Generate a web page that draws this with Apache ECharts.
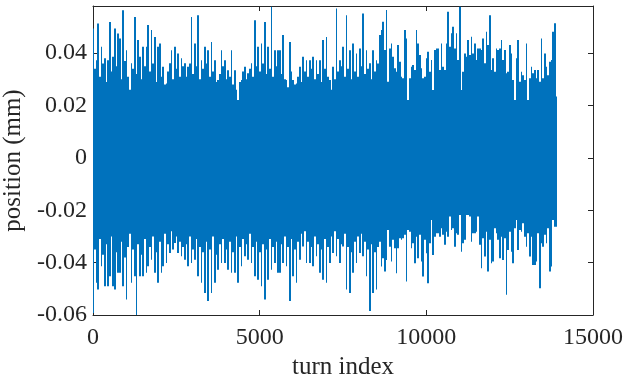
<!DOCTYPE html>
<html>
<head>
<meta charset="utf-8">
<script src="https://cdn.jsdelivr.net/npm/echarts@6/dist/echarts.min.js"></script>
<style>
html, body { margin: 0; padding: 0; background: #fff; }
#container { width: 626px; height: 381px; }
</style>
</head>
<body>
<div id="container"></div>
<script>
// spacing between plotted columns, in turns
const turnStep = 50;

// upper edge of each column (mm) left to right
const upper = [
    // turns 0 - 2700
    0.0494, 0.034, 0.0373, 0.0513, 0.031, 0.0424, 0.036, 0.038, 0.029, 0.0373, 0.0519, 0.033, 0.0386, 0.0494, 0.035, 0.0475,
    0.0456, 0.03, 0.0564, 0.037, 0.0411, 0.031, 0.026, 0.0361, 0.034, 0.0538, 0.032, 0.045, 0.0386, 0.03, 0.0424, 0.035,
    0.0424, 0.0507, 0.033, 0.0488, 0.036, 0.0462, 0.029, 0.0424, 0.0437, 0.031, 0.0348, 0.028, 0.0284, 0.033, 0.0361, 0.0411,
    0.03, 0.0424, 0.034, 0.0399, 0.031, 0.038, 0.035,
    // turns 2750 - 5550
    0.0361, 0.031, 0.0348, 0.036, 0.0538, 0.032, 0.0437, 0.035, 0.0545, 0.03, 0.0373, 0.034, 0.0424, 0.036, 0.0411, 0.031,
    0.0443, 0.033, 0.0373, 0.029, 0.0297, 0.032, 0.0411, 0.035, 0.0373, 0.03, 0.0335, 0.031, 0.0411, 0.028, 0.0335, 0.026,
    0.0221, 0.029, 0.0297, 0.033, 0.0348, 0.03, 0.0323, 0.034, 0.0361, 0.031, 0.0526, 0.035, 0.0424, 0.033, 0.0437, 0.036,
    0.0519, 0.032, 0.0424, 0.034, 0.0577, 0.031, 0.0411, 0.035, 0.0411,
    // turns 5600 - 8550
    0.0411, 0.032, 0.0469, 0.03, 0.0297, 0.027, 0.0443, 0.033, 0.0297, 0.028, 0.0284, 0.031, 0.0348, 0.029, 0.0386, 0.033,
    0.0373, 0.031, 0.0373, 0.034, 0.0386, 0.03, 0.0373, 0.032, 0.0373, 0.029, 0.045, 0.034, 0.0462, 0.031, 0.0297, 0.026,
    0.0348, 0.03, 0.057, 0.033, 0.0373, 0.035, 0.0424, 0.031, 0.0545, 0.034, 0.0411, 0.03, 0.0437, 0.033, 0.0399, 0.031,
    0.0418, 0.035, 0.0551, 0.032, 0.0411, 0.034, 0.0361, 0.03, 0.0411, 0.033, 0.0373, 0.036,
    // turns 8600 - 13900
    0.0469, 0.0488, 0.052, 0.0412, 0.0565, 0.0291, 0.0418, 0.0437, 0.0386, 0.0342, 0.0329, 0.0431, 0.0367, 0.031, 0.0304, 0.0488,
    0.0456, 0.0221, 0.0304, 0.0348, 0.0355, 0.0336, 0.0488, 0.0437, 0.0393, 0.0342, 0.0304, 0.031, 0.038, 0.0405, 0.0329, 0.0374,
    0.0259, 0.0412, 0.0418, 0.0418, 0.0336, 0.0437, 0.0348, 0.0336, 0.0437, 0.0558, 0.0424, 0.0476, 0.0501, 0.0418, 0.0476, 0.0374,
    0.0577, 0.0259, 0.0329, 0.0399, 0.0386, 0.045, 0.0393, 0.0463, 0.0399, 0.0437, 0.0374, 0.0418, 0.0418, 0.0412, 0.0456, 0.0361,
    0.0482, 0.0431, 0.0545, 0.0336, 0.038, 0.0329, 0.0418, 0.0412, 0.0418, 0.045, 0.0374, 0.0412, 0.0323, 0.0329, 0.0431, 0.0399,
    0.0297, 0.0221, 0.038, 0.045, 0.0291, 0.0329, 0.0316, 0.0297, 0.0437, 0.0221, 0.0304, 0.0348, 0.0323, 0.0336, 0.0304, 0.0336,
    0.0291, 0.0456, 0.0304, 0.0399, 0.0348, 0.0316, 0.0367, 0.0374, 0.0482, 0.0514, 0.0234
];

// lower edge of each column (mm)
const lower = [
    // turns 0 - 2700
    -0.0592, -0.035, -0.0477, -0.0503, -0.031, -0.0414, -0.037, -0.049, -0.033, -0.049, -0.0452, -0.03, -0.049, -0.0503, -0.036, -0.0439,
    -0.0439, -0.032, -0.049, -0.038, -0.0541, -0.034, -0.029, -0.0477, -0.035, -0.0452, -0.06, -0.033, -0.0452, -0.037, -0.0452, -0.031,
    -0.0439, -0.0414, -0.034, -0.0389, -0.03, -0.0439, -0.036, -0.0477, -0.032, -0.0439, -0.0414, -0.029, -0.0401, -0.033, -0.0363, -0.028,
    -0.035, -0.0325, -0.03, -0.0363, -0.032, -0.0376, -0.034,
    // turns 2750 - 5550
    -0.0389, -0.033, -0.0414, -0.03, -0.0401, -0.035, -0.0389, -0.031, -0.0452, -0.034, -0.0477, -0.036, -0.0516, -0.032, -0.0547, -0.035,
    -0.0516, -0.03, -0.0477, -0.037, -0.0427, -0.033, -0.0401, -0.031, -0.0401, -0.035, -0.0427, -0.032, -0.0439, -0.036, -0.0439, -0.03,
    -0.0477, -0.034, -0.0414, -0.031, -0.0376, -0.033, -0.0389, -0.029, -0.0401, -0.034, -0.0452, -0.032, -0.0465, -0.036, -0.049, -0.033,
    -0.0541, -0.035, -0.0465, -0.031, -0.0427, -0.034, -0.0401, -0.032, -0.0439,
    // turns 5600 - 8550
    -0.0439, -0.033, -0.0401, -0.03, -0.0414, -0.034, -0.0547, -0.031, -0.0452, -0.035, -0.0477, -0.032, -0.0389, -0.029, -0.0338, -0.028,
    -0.0401, -0.032, -0.0401, -0.034, -0.0414, -0.03, -0.0376, -0.033, -0.0439, -0.035, -0.0465, -0.031, -0.0477, -0.034, -0.0401, -0.03,
    -0.0363, -0.028, -0.0376, -0.031, -0.0401, -0.033, -0.0338, -0.029, -0.0503, -0.034, -0.0516, -0.036, -0.0439, -0.032, -0.0401, -0.03,
    -0.0363, -0.029, -0.0376, -0.032, -0.0452, -0.035, -0.0585, -0.033, -0.0516, -0.036, -0.0503, -0.034,
    // turns 8600 - 13900
    -0.032, -0.0415, -0.0383, -0.0434, -0.039, -0.0275, -0.0339, -0.0396, -0.0313, -0.0345, -0.0441, -0.0345, -0.0307, -0.0313, -0.0307, -0.0294,
    -0.0472, -0.0275, -0.0282, -0.0345, -0.0326, -0.0402, -0.0301, -0.0383, -0.0294, -0.0396, -0.0453, -0.0313, -0.0364, -0.0479, -0.0326, -0.0237,
    -0.0371, -0.0301, -0.0288, -0.0288, -0.0301, -0.0269, -0.0294, -0.0332, -0.0282, -0.0301, -0.0224, -0.0275, -0.0269, -0.0339, -0.0288, -0.0294,
    -0.0218, -0.0358, -0.0326, -0.0313, -0.0218, -0.0218, -0.0224, -0.032, -0.0288, -0.0288, -0.0282, -0.0224, -0.0332, -0.0421, -0.0307, -0.0377,
    -0.0282, -0.0434, -0.0313, -0.0402, -0.0396, -0.0269, -0.0288, -0.0313, -0.0383, -0.0301, -0.039, -0.0307, -0.0523, -0.0352, -0.0282, -0.0358,
    -0.0402, -0.0269, -0.0237, -0.0352, -0.0275, -0.0282, -0.025, -0.0301, -0.0339, -0.0288, -0.0377, -0.0301, -0.0409, -0.0409, -0.0396, -0.0288,
    -0.0498, -0.0326, -0.0339, -0.0294, -0.0326, -0.0269, -0.0434, -0.0415, -0.0237, -0.0263, -0.0263
];

function draw_position() {
    let dom = document.getElementById("container");
    let myChart = echarts.init(dom);

    // one column per turnStep turns: [turn, upper, lower]
    let columns = upper.map(function (hi, i) {
        return [i * turnStep, hi, lower[i]];
    });

    const ink = '#262626';
    const font = 'Liberation Serif';

    let boxAxis = {
        axisLine: {show: true, onZero: false, lineStyle: {color: ink, width: 1}},
        axisTick: {show: true, inside: true, length: 5, lineStyle: {color: ink}},
        splitLine: {show: false}
    };

    let option = {
        animation: false,
        backgroundColor: '#fff',
        grid: {left: 93, right: 33, top: 6, bottom: 66, outerBoundsMode: 'none'},
        xAxis: [
            Object.assign({
                type: 'value', min: 0, max: 15000, interval: 5000, position: 'bottom',
                name: 'turn index', nameLocation: 'middle', nameGap: 34,
                nameTextStyle: {color: ink, fontFamily: font, fontSize: 25},
                axisLabel: {
                    color: ink, fontFamily: font, fontSize: 24, margin: 11,
                    formatter: function (v) { return String(v); }
                }
            }, boxAxis),
            Object.assign({
                type: 'value', min: 0, max: 15000, interval: 5000, position: 'top',
                axisLabel: {show: false}
            }, boxAxis)
        ],
        yAxis: [
            Object.assign({
                type: 'value', min: -0.06, max: 0.058, interval: 0.02, position: 'left',
                name: 'position (mm)', nameLocation: 'middle', nameGap: 49,
                nameTextStyle: {color: ink, fontFamily: font, fontSize: 25},
                axisLabel: {
                    color: ink, fontFamily: font, fontSize: 24, margin: 6, showMaxLabel: false,
                    formatter: function (v) {
                        return Math.abs(v) < 1e-9 ? '0' : String(+v.toFixed(2));
                    }
                }
            }, boxAxis),
            Object.assign({
                type: 'value', min: -0.06, max: 0.058, interval: 0.02, position: 'right',
                axisLabel: {show: false}
            }, boxAxis)
        ],
        series: [
            {
                type: 'custom',
                xAxisIndex: 0,
                yAxisIndex: 0,
                clip: true,
                encode: {x: 0, y: [1, 2]},
                data: columns,
                renderItem: function (params, api) {
                    let t = api.value(0);
                    let top = api.coord([t, api.value(1)]);
                    let bottom = api.coord([t, api.value(2)]);
                    // column edges half a step either side, snapped to whole pixels;
                    // neighbours share the same edge value so no seams are left
                    let x0 = Math.round(api.coord([t - turnStep / 2, 0])[0]);
                    let x1 = Math.round(api.coord([t + turnStep / 2, 0])[0]);
                    return {
                        type: 'rect',
                        shape: {x: x0, y: top[1], width: Math.max(1, x1 - x0), height: bottom[1] - top[1]},
                        style: {fill: '#0072BD'}
                    };
                }
            }
        ]
    };

    if (option && typeof option === "object") {
        myChart.setOption(option, true);
    }
}

draw_position();
</script>
</body>
</html>
